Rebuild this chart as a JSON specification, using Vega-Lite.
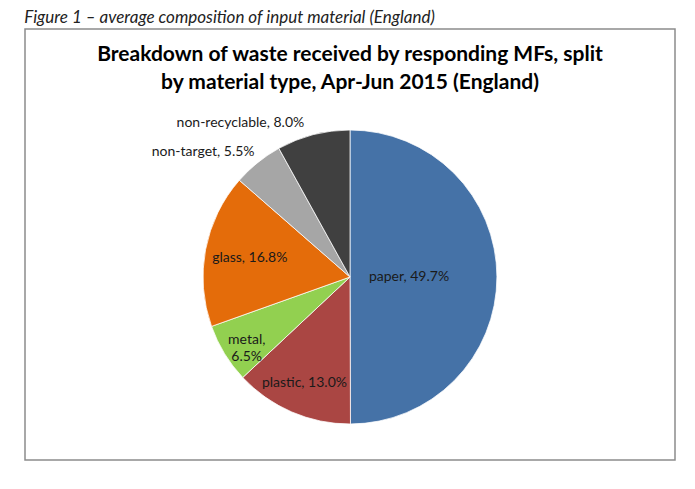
{
  "$schema": "https://vega.github.io/schema/vega-lite/v6.json",
  "padding": {"left": 24, "top": 9, "right": 0, "bottom": 0},
  "background": "white",
  "title": {
    "text": "Figure 1 – average composition of input material (England)",
    "anchor": "start",
    "font": "Lato",
    "fontStyle": "italic",
    "fontWeight": "normal",
    "fontSize": 17,
    "color": "#222222",
    "offset": 1
  },
  "spacing": 0,
  "vconcat": [
    {
      "width": 650,
      "height": 431,
      "title": {
        "text": ["Breakdown of waste received by responding MFs, split", "by material type, Apr-Jun 2015 (England)"],
        "anchor": "middle",
        "font": "Lato",
        "fontSize": 21,
        "fontWeight": "bold",
        "color": "#000000",
        "lineHeight": 28,
        "offset": -64
      },
      "data": {
        "values": [
          {"material": "paper", "share": 49.7, "rank": 1, "label": "paper, 49.7%"},
          {"material": "plastic", "share": 13.0, "rank": 2, "label": "plastic, 13.0%"},
          {"material": "metal", "share": 6.5, "rank": 3, "label": "metal,\n6.5%"},
          {"material": "glass", "share": 16.8, "rank": 4, "label": "glass, 16.8%"},
          {"material": "non-target", "share": 5.5, "rank": 5, "label": "non-target, 5.5%"},
          {"material": "non-recyclable", "share": 8.0, "rank": 6, "label": "non-recyclable, 8.0%"}
        ]
      },
      "encoding": {
        "theta": {"field": "share", "type": "quantitative", "stack": true},
        "order": {"field": "rank", "type": "quantitative", "sort": "ascending"},
        "y": {"value": 248}
      },
      "layer": [
        {
          "mark": {"type": "arc", "outerRadius": 147, "stroke": "white", "strokeWidth": 0.75},
          "encoding": {
            "color": {
              "field": "material",
              "type": "nominal",
              "legend": null,
              "scale": {
                "domain": ["paper", "plastic", "metal", "glass", "non-target", "non-recyclable"],
                "range": ["#4572A7", "#AA4643", "#92D050", "#E46C0A", "#A6A6A6", "#404040"]
              }
            }
          }
        },
        {
          "mark": {"type": "text", "font": "Lato", "fontSize": 14, "color": "#1a1a1a", "align": "center", "baseline": "middle", "radius": 59},
          "encoding": {
            "text": {"condition": {"test": "datum.material === 'paper'", "field": "label"}, "value": ""}
          }
        },
        {
          "mark": {"type": "text", "font": "Lato", "fontSize": 14, "color": "#1a1a1a", "align": "center", "baseline": "middle", "radius": 115},
          "encoding": {
            "text": {"condition": {"test": "datum.material === 'plastic'", "field": "label"}, "value": ""}
          }
        },
        {
          "mark": {"type": "text", "font": "Lato", "fontSize": 14, "color": "#1a1a1a", "align": "center", "baseline": "middle", "lineBreak": "\n", "lineHeight": 17, "radius": 121},
          "encoding": {
            "text": {"condition": {"test": "datum.material === 'metal'", "field": "label"}, "value": ""}
          }
        },
        {
          "mark": {"type": "text", "font": "Lato", "fontSize": 14, "color": "#1a1a1a", "align": "center", "baseline": "middle", "radius": 102},
          "encoding": {
            "text": {"condition": {"test": "datum.material === 'glass'", "field": "label"}, "value": ""}
          }
        },
        {
          "mark": {"type": "text", "font": "Lato", "fontSize": 14, "color": "#1a1a1a", "align": "right", "baseline": "middle", "dx": 5, "radius": 160},
          "encoding": {
            "text": {"condition": {"test": "datum.material === 'non-target'", "field": "label"}, "value": ""}
          }
        },
        {
          "mark": {"type": "text", "font": "Lato", "fontSize": 14, "color": "#1a1a1a", "align": "right", "baseline": "middle", "dx": -6, "radius": 159},
          "encoding": {
            "text": {"condition": {"test": "datum.material === 'non-recyclable'", "field": "label"}, "value": ""}
          }
        }
      ]
    }
  ],
  "config": {
    "view": {"stroke": "#8c8c8c", "strokeWidth": 1.5}
  }
}
